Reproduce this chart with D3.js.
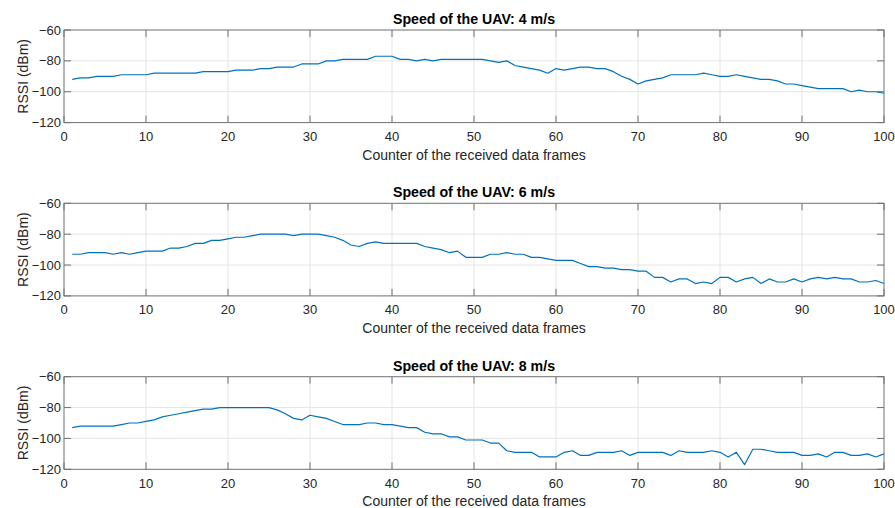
<!DOCTYPE html>
<html>
<head>
<meta charset="utf-8">
<script src="https://cdn.jsdelivr.net/npm/d3@7/dist/d3.min.js"></script>
<style>
  html, body { margin: 0; padding: 0; background: #fff; }
  svg { display: block; font-family: "Liberation Sans", Arial, Helvetica, sans-serif; }
</style>
</head>
<body>
<svg id="chart" width="895" height="508"></svg>
<script>
// Received signal strength per data frame, one series per UAV speed
const frames = d3.range(1, 101);

const rssi4 = [
  -92, -91, -91, -90, -90, -90, -89, -89, -89, -89,
  -88, -88, -88, -88, -88, -88, -87, -87, -87, -87,
  -86, -86, -86, -85, -85, -84, -84, -84, -82, -82,
  -82, -80, -80, -79, -79, -79, -79, -77, -77, -77,
  -79, -79, -80, -79, -80, -79, -79, -79, -79, -79,
  -79, -80, -81, -80, -83, -84, -85, -86, -88, -85,
  -86, -85, -84, -84, -85, -85, -87, -90, -92, -95,
  -93, -92, -91, -89, -89, -89, -89, -88, -89, -90,
  -90, -89, -90, -91, -92, -92, -93, -95, -95, -96,
  -97, -98, -98, -98, -98, -100, -99, -100, -100, -101
];

const rssi6 = [
  -93, -93, -92, -92, -92, -93, -92, -93, -92, -91,
  -91, -91, -89, -89, -88, -86, -86, -84, -84, -83,
  -82, -82, -81, -80, -80, -80, -80, -81, -80, -80,
  -80, -81, -82, -84, -87, -88, -86, -85, -86, -86,
  -86, -86, -86, -88, -89, -90, -92, -91, -95, -95,
  -95, -93, -93, -92, -93, -93, -95, -95, -96, -97,
  -97, -97, -99, -101, -101, -102, -102, -103, -103, -104,
  -104, -108, -108, -111, -109, -109, -112, -111, -112, -108,
  -108, -111, -109, -108, -112, -109, -111, -111, -109, -111,
  -109, -108, -109, -108, -109, -109, -111, -111, -110, -112
];

const rssi8 = [
  -93, -92, -92, -92, -92, -92, -91, -90, -90, -89,
  -88, -86, -85, -84, -83, -82, -81, -81, -80, -80,
  -80, -80, -80, -80, -80, -81.5, -84, -87, -88, -85,
  -86, -87, -89, -91, -91, -91, -90, -90, -91, -91,
  -92, -93, -93, -96, -97, -97, -99, -99, -101, -101,
  -101, -103, -103, -108, -109, -109, -109, -112, -112, -112,
  -109, -108, -111, -111, -109, -109, -109, -108, -111, -109,
  -109, -109, -109, -111, -108, -109, -109, -109, -108, -109,
  -112, -109, -117, -107, -107, -108, -109, -109, -109, -111,
  -111, -110, -112, -109, -109, -111, -111, -110, -112, -110
];

const titles = [
  "Speed of the UAV: 4 m/s",
  "Speed of the UAV: 6 m/s",
  "Speed of the UAV: 8 m/s"
];
const seriesList = [rssi4, rssi6, rssi8];

const xTicks = [0, 10, 20, 30, 40, 50, 60, 70, 80, 90, 100];
const yTicks = [-120, -100, -80, -60];
const xLabel = "Counter of the received data frames";
const yLabel = "RSSI (dBm)";

// Panel geometry
const left = 64, right = 884;
const panelTops = [30, 203.3, 376.7];
const panelH = 92.6;

const lineColor = "#0072bd";
const axisColor = "#707070";
const gridColor = "#e5e5e5";
const textColor = "#262626";
const tickLen = 7;

const svg = d3.select("#chart");

const x = d3.scaleLinear().domain([0, 100]).range([left, right]);

seriesList.forEach((values, i) => {
  const top = panelTops[i];
  const bottom = top + panelH;
  const y = d3.scaleLinear().domain([-120, -60]).range([bottom, top]);
  const g = svg.append("g");

  // grid
  g.selectAll("line.gx").data(xTicks.slice(1, -1)).join("line")
    .attr("x1", d => x(d)).attr("x2", d => x(d))
    .attr("y1", top).attr("y2", bottom)
    .attr("stroke", gridColor).attr("stroke-width", 1);
  g.selectAll("line.gy").data(yTicks.slice(1, -1)).join("line")
    .attr("x1", left).attr("x2", right)
    .attr("y1", d => y(d)).attr("y2", d => y(d))
    .attr("stroke", gridColor).attr("stroke-width", 1);

  // inward ticks on all four sides
  const tickG = g.append("g").attr("stroke", axisColor).attr("stroke-width", 1);
  xTicks.forEach(t => {
    tickG.append("line").attr("x1", x(t)).attr("x2", x(t)).attr("y1", bottom).attr("y2", bottom - tickLen);
    tickG.append("line").attr("x1", x(t)).attr("x2", x(t)).attr("y1", top).attr("y2", top + tickLen);
  });
  yTicks.forEach(t => {
    tickG.append("line").attr("x1", left).attr("x2", left + tickLen).attr("y1", y(t)).attr("y2", y(t));
    tickG.append("line").attr("x1", right).attr("x2", right - tickLen).attr("y1", y(t)).attr("y2", y(t));
  });

  // data line
  const line = d3.line().x((d, k) => x(frames[k])).y(d => y(d));
  g.append("path").datum(values)
    .attr("d", line)
    .attr("fill", "none")
    .attr("stroke", lineColor)
    .attr("stroke-width", 1.2)
    .attr("stroke-linejoin", "round");

  // box
  g.append("rect")
    .attr("x", left).attr("y", top)
    .attr("width", right - left).attr("height", bottom - top)
    .attr("fill", "none").attr("stroke", axisColor).attr("stroke-width", 1);

  // tick labels
  const fmt = d3.format("d");
  g.selectAll("text.xt").data(xTicks).join("text")
    .attr("x", d => x(d)).attr("y", bottom + 18.5)
    .attr("text-anchor", "middle")
    .attr("font-size", 13).attr("fill", textColor)
    .text(d => fmt(d));
  g.selectAll("text.yt").data(yTicks).join("text")
    .attr("x", left - 3).attr("y", d => y(d) + 4.5)
    .attr("text-anchor", "end")
    .attr("font-size", 13).attr("fill", textColor)
    .text(d => fmt(d));

  // titles and labels
  g.append("text")
    .attr("x", (left + right) / 2).attr("y", top - 6)
    .attr("text-anchor", "middle")
    .attr("font-size", 14.2).attr("font-weight", "bold").attr("fill", "#000")
    .text(titles[i]);
  g.append("text")
    .attr("x", (left + right) / 2).attr("y", bottom + 37)
    .attr("text-anchor", "middle")
    .attr("font-size", 14).attr("fill", textColor)
    .text(xLabel);
  g.append("text")
    .attr("transform", `translate(28,${(top + bottom) / 2}) rotate(-90)`)
    .attr("text-anchor", "middle")
    .attr("font-size", 14).attr("fill", textColor)
    .text(yLabel);
});
</script>
</body>
</html>
